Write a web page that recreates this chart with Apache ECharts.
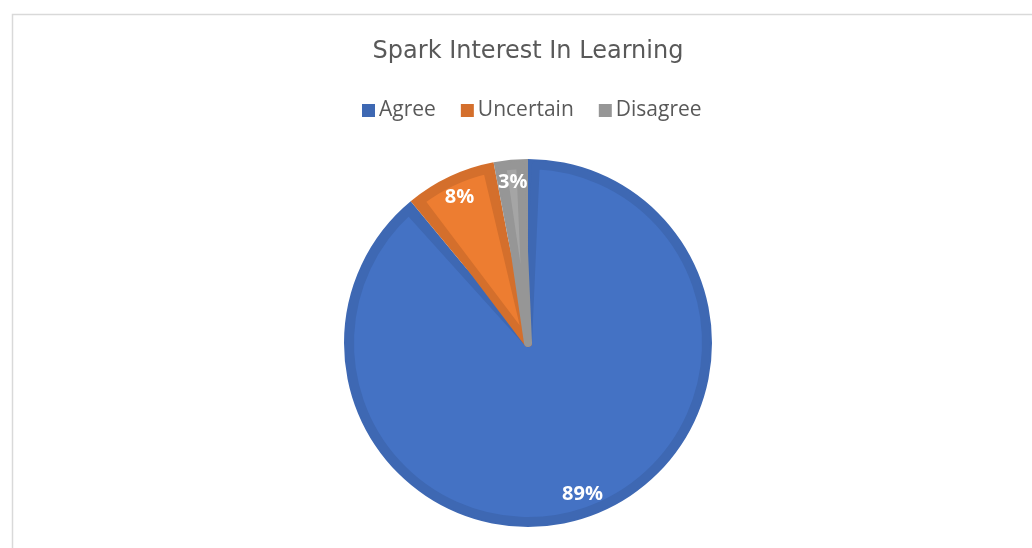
<!DOCTYPE html>
<html>
<head>
<meta charset="utf-8">
<script src="https://cdn.jsdelivr.net/npm/echarts@6/dist/echarts.min.js"></script>
<style>html,body{margin:0;padding:0;background:#fff}#c{width:1032px;height:548px}</style>
</head>
<body>
<div id="c"></div>
<script>
const titleText = 'Spark Interest In Learning';
const categories = ['Agree', 'Uncertain', 'Disagree'];
const values = [89, 8, 3];
const colors = ['#4472C4', '#ED7D31', '#A5A5A5'];
const borderColors = ['#3E68B3', '#D46F2C', '#969696'];

const chart = echarts.init(document.getElementById('c'), null, {renderer: 'canvas'});
const outerData = categories.map((n, i) => ({
  name: n, value: values[i], itemStyle: {color: borderColors[i]}
}));
const innerData = categories.map((n, i) => ({
  name: n, value: values[i], itemStyle: {color: colors[i], borderColor: borderColors[i]}
}));
const labelData = categories.map((n, i) => ({name: n, value: values[i]}));

chart.setOption({
  animation: false,
  backgroundColor: '#fff',
  graphic: [{
    type: 'rect', left: 10, top: 12, silent: true,
    shape: {width: 1040, height: 560},
    style: {fill: 'none', stroke: '#D9D9D9', lineWidth: 1.5}
  }],
  title: {
    text: titleText, left: 523, textAlign: 'center', top: 35,
    textStyle: {fontFamily: 'DejaVu Sans', fontSize: 24, fontWeight: 'normal', color: '#595959'}
  },
  legend: {
    data: categories, top: 95, left: 357,
    icon: 'rect', itemWidth: 13, itemHeight: 13, itemGap: 25,
    itemStyle: {borderWidth: 0},
    textStyle: {fontFamily: 'Open Sans', fontSize: 21, color: '#595959', padding: [0,0,0,-1]}
  },
  series: [{
    type: 'pie', center: [528, 343], radius: [0, 184],
    startAngle: 90, clockwise: true, silent: true,
    label: {show: false}, labelLine: {show: false},
    data: outerData
  }, {
    type: 'pie', center: [528, 343], radius: [0, 178],
    startAngle: 90, clockwise: true, silent: true, padAngle: 5,
    itemStyle: {borderWidth: 8, borderJoin: 'round'},
    label: {show: false}, labelLine: {show: false},
    data: innerData
  }, {
    type: 'pie', center: [528, 343], radius: [132, 184],
    startAngle: 90, clockwise: true, silent: true,
    itemStyle: {color: 'rgba(0,0,0,0)'},
    label: {show: true, position: 'inside', formatter: '{d}%', color: '#fff',
      fontFamily: 'Open Sans', fontWeight: 'bold', fontSize: 20},
    labelLine: {show: false},
    data: labelData
  }]
});
</script>
</body>
</html>
